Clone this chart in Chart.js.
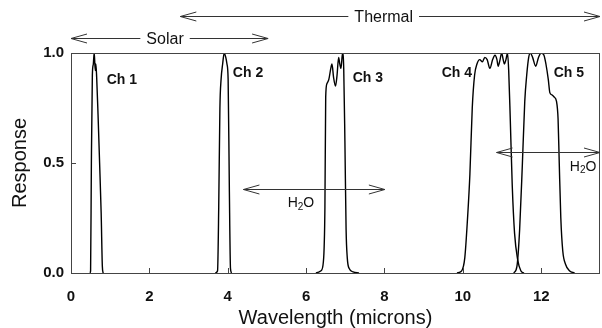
<!DOCTYPE html>
<html>
<head>
<meta charset="utf-8">
<script src="https://cdn.jsdelivr.net/npm/chart.js@4/dist/chart.umd.min.js"></script>
<style>
  html, body { margin: 0; padding: 0; background: #fff; }
  canvas { display: block; }
</style>
</head>
<body>
<canvas id="chart" width="602" height="328"></canvas>
<script>
// channel response curves (wavelength in microns, response 0..1)
const ch1Wavelength = [0.48, 0.50, 0.52, 0.545, 0.57, 0.59, 0.60, 0.62, 0.635, 0.655, 0.69, 0.73, 0.77, 0.80, 0.82];
const ch1Response   = [0.00, 0.01, 0.50, 0.90, 0.95, 1.00, 0.98, 0.92, 0.95, 0.89, 0.72, 0.50, 0.27, 0.03, 0.00];

const ch2Wavelength = [3.68, 3.74, 3.77, 3.80, 3.83, 3.87, 3.91, 3.95, 3.98, 4.01, 4.04, 4.07, 4.10];
const ch2Response   = [0.00, 0.01, 0.30, 0.75, 0.88, 0.95, 1.00, 0.98, 0.95, 0.88, 0.40, 0.02, 0.00];

const ch3Wavelength = [6.25, 6.38, 6.44, 6.48, 6.50, 6.53, 6.58, 6.63, 6.66, 6.70, 6.75, 6.79, 6.83, 6.86, 6.89, 6.93, 6.96, 6.99, 7.02, 7.05, 7.10, 7.20, 7.35];
const ch3Response   = [0.00, 0.01, 0.05, 0.30, 0.80, 0.86, 0.88, 0.93, 0.95, 0.89, 0.85, 0.90, 0.98, 0.95, 0.93, 1.00, 0.93, 0.60, 0.20, 0.07, 0.02, 0.005, 0.00];

const ch4Wavelength = [9.85, 9.97, 10.05, 10.12, 10.18, 10.24, 10.30, 10.36, 10.43, 10.50, 10.56, 10.62, 10.69, 10.76, 10.82, 10.87, 10.90, 10.95, 10.99, 11.03, 11.06, 11.10, 11.14, 11.17, 11.21, 11.26, 11.32, 11.40, 11.48, 11.56];
const ch4Response   = [0.00, 0.01, 0.07, 0.25, 0.45, 0.75, 0.90, 0.95, 0.97, 0.96, 0.98, 0.97, 0.93, 0.97, 0.99, 0.97, 0.94, 0.97, 1.00, 0.97, 0.95, 0.97, 1.00, 0.92, 0.70, 0.40, 0.18, 0.06, 0.01, 0.00];

const ch5Wavelength = [11.30, 11.38, 11.45, 11.52, 11.58, 11.63, 11.68, 11.72, 11.78, 11.86, 11.93, 12.00, 12.07, 12.12, 12.18, 12.22, 12.27, 12.33, 12.39, 12.43, 12.46, 12.50, 12.55, 12.62, 12.72, 12.85];
const ch5Response   = [0.00, 0.03, 0.20, 0.50, 0.78, 0.90, 0.98, 1.00, 0.98, 0.94, 0.98, 1.00, 0.99, 0.95, 0.88, 0.82, 0.81, 0.80, 0.78, 0.70, 0.50, 0.25, 0.10, 0.04, 0.01, 0.00];

const xTickValues = [0, 2, 4, 6, 8, 10, 12];
const yTickValues = [0, 0.5, 1.0];

const channelNames = ["Ch 1", "Ch 2", "Ch 3", "Ch 4", "Ch 5"];

// where the annotations sit, in data units
const channelLabelX = [0.91, 4.13, 7.19, 9.46, 12.32];
const channelLabelY = [0.875, 0.91, 0.886, 0.91, 0.91];

const FONT = "'Liberation Sans', Arial, sans-serif";

function toPoints(xs, ys) {
  return xs.map((x, i) => ({ x: x, y: ys[i] }));
}

const curves = [
  toPoints(ch1Wavelength, ch1Response),
  toPoints(ch2Wavelength, ch2Response),
  toPoints(ch3Wavelength, ch3Response),
  toPoints(ch4Wavelength, ch4Response),
  toPoints(ch5Wavelength, ch5Response)
];

function arrow(ctx, x1, x2, y, gapFrom, gapTo) {
  ctx.beginPath();
  if (gapFrom !== undefined) {
    ctx.moveTo(x1, y); ctx.lineTo(gapFrom, y);
    ctx.moveTo(gapTo, y); ctx.lineTo(x2, y);
  } else {
    ctx.moveTo(x1, y); ctx.lineTo(x2, y);
  }
  // open heads
  ctx.moveTo(x1 + 16, y - 4.5); ctx.lineTo(x1, y); ctx.lineTo(x1 + 16, y + 4.5);
  ctx.moveTo(x2 - 16, y - 4.5); ctx.lineTo(x2, y); ctx.lineTo(x2 - 16, y + 4.5);
  ctx.stroke();
}

function labelledArrow(ctx, x1, x2, y, text, cx) {
  ctx.font = "16px " + FONT;
  const w = ctx.measureText(text).width;
  arrow(ctx, x1, x2, y, cx - w / 2 - 6, cx + w / 2 + 6);
  ctx.fillStyle = "#111";
  ctx.textAlign = "center";
  ctx.textBaseline = "middle";
  ctx.fillText(text, cx, y + 1);
}

function waterLabel(ctx, left, cy) {
  ctx.fillStyle = "#111";
  ctx.textAlign = "left";
  ctx.textBaseline = "middle";
  ctx.font = "14px " + FONT;
  ctx.fillText("H", left, cy);
  let x = left + ctx.measureText("H").width;
  ctx.font = "10px " + FONT;
  ctx.fillText("2", x, cy + 4);
  x += ctx.measureText("2").width;
  ctx.font = "14px " + FONT;
  ctx.fillText("O", x, cy);
}

const decorations = {
  id: "decorations",
  afterDraw(chart) {
    const ctx = chart.ctx;
    const a = chart.chartArea;
    const xs = chart.scales.x;
    const ys = chart.scales.y;
    ctx.save();

    // frame
    ctx.strokeStyle = "#444";
    ctx.lineWidth = 1;
    ctx.strokeRect(a.left + 0.5, a.top + 0.5, a.right - a.left - 1, a.bottom - a.top);

    // inward tick marks
    ctx.beginPath();
    xTickValues.slice(1).forEach(v => {
      const px = Math.round(xs.getPixelForValue(v)) + 0.5;
      ctx.moveTo(px, a.bottom); ctx.lineTo(px, a.bottom - 5);
    });
    yTickValues.slice(1, -1).forEach(v => {
      const py = Math.round(ys.getPixelForValue(v)) + 0.5;
      ctx.moveTo(a.left, py); ctx.lineTo(a.left + 5, py);
    });
    ctx.stroke();

    // channel labels
    ctx.fillStyle = "#111";
    ctx.font = "bold 14px " + FONT;
    ctx.textAlign = "left";
    ctx.textBaseline = "middle";
    channelNames.forEach((name, i) => {
      ctx.fillText(name, xs.getPixelForValue(channelLabelX[i]), ys.getPixelForValue(channelLabelY[i]));
    });

    // Solar / Thermal bands above the plot
    ctx.strokeStyle = "#333";
    ctx.lineWidth = 1;
    labelledArrow(ctx, xs.getPixelForValue(0), xs.getPixelForValue(5.03), 38.5, "Solar", xs.getPixelForValue(2.4));
    labelledArrow(ctx, xs.getPixelForValue(2.79), a.right, 16.5, "Thermal", xs.getPixelForValue(7.98));

    // water vapour absorption bands
    const y1 = Math.round(ys.getPixelForValue(0.38)) + 0.5;
    arrow(ctx, xs.getPixelForValue(4.4), xs.getPixelForValue(8.01), y1);
    waterLabel(ctx, xs.getPixelForValue(5.53), ys.getPixelForValue(0.318));

    const y2 = Math.round(ys.getPixelForValue(0.55)) + 0.5;
    arrow(ctx, xs.getPixelForValue(10.86), a.right, y2);
    waterLabel(ctx, xs.getPixelForValue(12.73), ys.getPixelForValue(0.483));

    ctx.restore();
  }
};

const ctx = document.getElementById("chart").getContext("2d");
const chart = new Chart(ctx, {
  type: "line",
  data: {
    datasets: curves.map((pts, i) => ({
      label: channelNames[i],
      data: pts,
      borderColor: "#000",
      borderWidth: 1.4,
      pointRadius: 0,
      cubicInterpolationMode: "monotone",
      fill: false
    }))
  },
  options: {
    responsive: false,
    animation: false,
    devicePixelRatio: 1,
    layout: { padding: { top: 53, right: 2, left: 0, bottom: 0 } },
    plugins: {
      legend: { display: false },
      tooltip: { enabled: false }
    },
    scales: {
      x: {
        type: "linear",
        min: 0,
        max: 13.5,
        afterBuildTicks: s => { s.ticks = xTickValues.map(v => ({ value: v })); },
        afterFit: s => { s.height = 55; },
        grid: { display: false, drawTicks: false },
        border: { display: false },
        ticks: {
          padding: 15,
          color: "#111",
          font: { family: FONT, size: 15, weight: "bold" },
          maxRotation: 0
        },
        title: {
          display: true,
          text: "Wavelength (microns)",
          color: "#111",
          font: { family: FONT, size: 20 },
          padding: { top: 0, bottom: -2 }
        }
      },
      y: {
        min: 0,
        max: 1,
        afterBuildTicks: s => { s.ticks = yTickValues.map(v => ({ value: v })); },
        afterFit: s => { s.width = 71; },
        grid: { display: false, drawTicks: false },
        border: { display: false },
        ticks: {
          padding: 7,
          color: "#111",
          font: { family: FONT, size: 15, weight: "bold" },
          callback: v => v.toFixed(1)
        },
        title: {
          display: true,
          text: "Response",
          color: "#111",
          font: { family: FONT, size: 20 },
          padding: { top: 8, bottom: 0 }
        }
      }
    }
  },
  plugins: [decorations]
});
</script>
</body>
</html>
